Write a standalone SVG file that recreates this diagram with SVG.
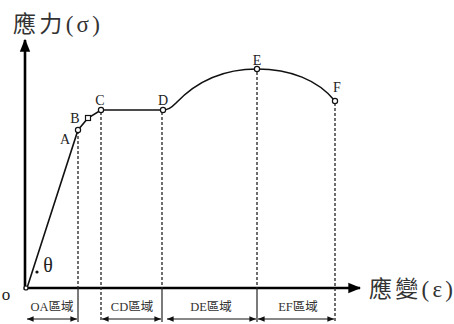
<svg xmlns="http://www.w3.org/2000/svg" width="454" height="324" viewBox="0 0 454 324">
<style>
.axis{stroke:#000;stroke-width:2.6;fill:none}
.curve{stroke:#111;stroke-width:1.6;fill:none}
.dash{stroke:#222;stroke-width:1.3;stroke-dasharray:3 2;fill:none}
.tick{stroke:#222;stroke-width:1.2;fill:none}
.dim{stroke:#111;stroke-width:1.1;fill:none;marker-start:url(#al);marker-end:url(#ar)}
.pt{fill:#fff;stroke:#111;stroke-width:1.2}
.lbl{font-family:"Liberation Serif",serif;font-size:14px;fill:#222;text-anchor:middle}
.big{font-family:"Liberation Serif","Noto Sans CJK TC",serif;font-size:23px;fill:#333}
.reg{font-family:"Liberation Serif","Noto Sans CJK TC",serif;font-size:12.5px;fill:#333;text-anchor:middle}
</style>
<defs>
<marker id="ah" viewBox="0 0 10 10" refX="9" refY="5" markerWidth="5" markerHeight="5" orient="auto" markerUnits="strokeWidth"><path d="M0,1 L10,5 L0,9 Z" fill="#000"/></marker>
<marker id="ar" viewBox="0 0 10 10" refX="10" refY="5" markerWidth="6" markerHeight="6" orient="auto"><path d="M0,1 L10,5 L0,9 Z" fill="#111"/></marker>
<marker id="al" viewBox="0 0 10 10" refX="0" refY="5" markerWidth="6" markerHeight="6" orient="auto"><path d="M10,1 L0,5 L10,9 Z" fill="#111"/></marker>
</defs>
<rect width="454" height="324" fill="#fff"/>
<g id="connectors">
<line class="axis" x1="25" y1="290" x2="25" y2="40" marker-end="url(#ah)"/>
<line class="axis" x1="24" y1="288" x2="360" y2="288" marker-end="url(#ah)"/>
<line class="dash" x1="78" y1="131" x2="78" y2="288"/>
<line class="dash" x1="101" y1="112" x2="101" y2="322"/>
<line class="dash" x1="162" y1="112" x2="162" y2="288"/>
<line class="dash" x1="257" y1="72" x2="257" y2="288"/>
<line class="dash" x1="335" y1="103" x2="335" y2="322"/>
<line class="tick" x1="78" y1="288" x2="78" y2="322"/>
<line class="tick" x1="162" y1="288" x2="162" y2="322"/>
<line class="tick" x1="257" y1="288" x2="257" y2="322"/>
<line class="dim" x1="27" y1="319" x2="77" y2="319"/>
<line class="dim" x1="102" y1="319" x2="161" y2="319"/>
<line class="dim" x1="167" y1="319" x2="256" y2="319"/>
<line class="dim" x1="258" y1="319" x2="334" y2="319"/>
<path class="curve" d="M27,288 L78,130 L88,118 L101,110 L162,110 C168,110 171,108 176,103 C196,82 222,69 257,69 C290,69 318,80 335,101"/>
<circle cx="37" cy="272" r="1.6" fill="#111"/>
</g>
<g id="node-O"><circle class="pt" cx="26" cy="288" r="2"/><text class="lbl" x="6" y="300" style="font-size:17px">o</text></g>
<g id="node-A"><circle class="pt" cx="78" cy="130" r="2.6"/><text class="lbl" x="65" y="144">A</text></g>
<g id="node-B"><rect class="pt" x="85.5" y="115.5" width="5" height="5"/><text class="lbl" x="75" y="123">B</text></g>
<g id="node-C"><circle class="pt" cx="101" cy="110" r="2.6"/><text class="lbl" x="100" y="105">C</text></g>
<g id="node-D"><circle class="pt" cx="163" cy="110" r="2.6"/><text class="lbl" x="163" y="105">D</text></g>
<g id="node-E"><circle class="pt" cx="257" cy="69" r="2.6"/><text class="lbl" x="257" y="65">E</text></g>
<g id="node-F"><circle class="pt" cx="335" cy="101" r="2.6"/><text class="lbl" x="337" y="92">F</text></g>
<g id="labels">
<text class="big" x="13" y="32" textLength="87" lengthAdjust="spacing">應力(σ)</text>
<text class="big" x="369" y="297" textLength="84" lengthAdjust="spacing">應變(ε)</text>
<text class="lbl" x="48" y="272" style="font-size:20px">θ</text>
<text class="reg" x="52" y="311">OA區域</text>
<text class="reg" x="132" y="311">CD區域</text>
<text class="reg" x="211" y="311">DE區域</text>
<text class="reg" x="298" y="311">EF區域</text>
</g>
</svg>
